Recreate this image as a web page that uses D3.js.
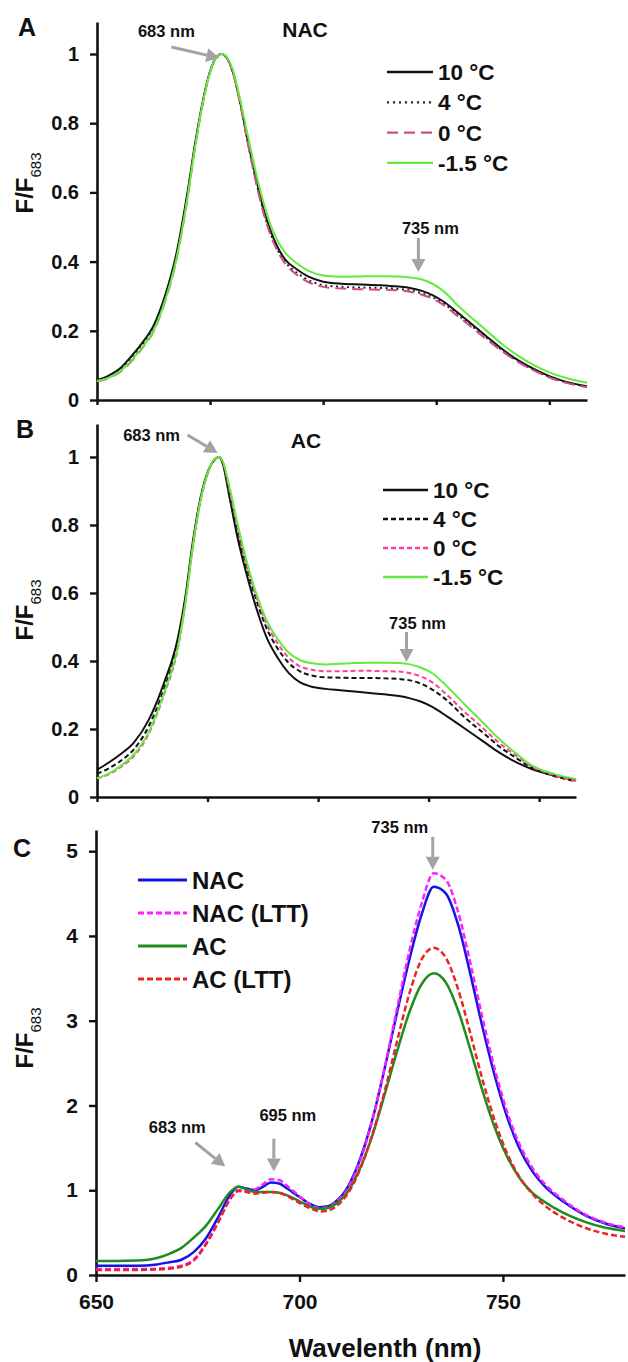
<!DOCTYPE html>
<html><head><meta charset="utf-8">
<script src="https://cdn.jsdelivr.net/npm/d3@7"></script>
<style>
body{margin:0;background:#fff;}
svg{display:block;font-family:"Liberation Sans",Arial,sans-serif;}
</style></head>
<body>
<script>
// ---------- DATA ----------
// Panel A (NAC)
const wlA = [650,653,656,659,662,665,668,671,674,676,678,680,682,683,684,686,688,690,692,694,696,698,700,703,706,710,715,720,725,730,733,736,739,742,746,750,754,758,762,766,770,775,780];
const nac10 = [0.058,0.07,0.09,0.125,0.165,0.215,0.3,0.42,0.6,0.74,0.86,0.95,0.995,1.0,0.995,0.95,0.86,0.75,0.65,0.56,0.49,0.44,0.405,0.378,0.357,0.342,0.336,0.334,0.332,0.328,0.324,0.316,0.303,0.284,0.25,0.214,0.178,0.143,0.113,0.089,0.069,0.051,0.04];
const nac4 = [0.056,0.066,0.085,0.118,0.158,0.207,0.292,0.41,0.59,0.735,0.858,0.949,0.995,1.0,0.995,0.95,0.858,0.745,0.642,0.552,0.482,0.432,0.398,0.368,0.347,0.332,0.327,0.325,0.324,0.321,0.317,0.309,0.297,0.278,0.244,0.209,0.174,0.14,0.11,0.087,0.067,0.05,0.039];
const nac0 = [0.054,0.063,0.08,0.11,0.15,0.198,0.283,0.402,0.582,0.728,0.853,0.947,0.995,1.0,0.995,0.948,0.855,0.742,0.638,0.548,0.478,0.428,0.393,0.362,0.341,0.327,0.322,0.32,0.319,0.317,0.313,0.305,0.293,0.274,0.24,0.205,0.17,0.137,0.108,0.085,0.065,0.048,0.037];
const nacM15 = [0.055,0.064,0.082,0.113,0.152,0.2,0.285,0.405,0.585,0.73,0.855,0.948,0.995,1.0,0.996,0.955,0.868,0.765,0.665,0.578,0.508,0.458,0.425,0.395,0.374,0.36,0.356,0.357,0.358,0.357,0.354,0.349,0.336,0.314,0.27,0.232,0.194,0.157,0.126,0.1,0.08,0.062,0.05];

// Panel B (AC)
const wlB = [650,653,656,660,664,668,672,674,676,678,680,682,683,684,686,688,690,692,694,696,699,702,705,708,712,716,720,724,728,732,735,738,741,745,750,755,759,764,768,774,780];
const ac10 = [0.08,0.1,0.123,0.16,0.226,0.33,0.47,0.59,0.75,0.875,0.955,0.993,1.0,0.985,0.88,0.77,0.68,0.6,0.53,0.47,0.41,0.365,0.338,0.325,0.318,0.314,0.31,0.306,0.302,0.297,0.29,0.28,0.265,0.237,0.2,0.162,0.132,0.101,0.082,0.063,0.05];
const ac4 = [0.068,0.083,0.103,0.14,0.207,0.312,0.455,0.58,0.74,0.87,0.952,0.993,1.0,0.988,0.895,0.79,0.7,0.622,0.555,0.497,0.437,0.395,0.37,0.358,0.352,0.351,0.35,0.35,0.349,0.347,0.343,0.333,0.316,0.284,0.232,0.187,0.15,0.113,0.086,0.062,0.046];
const ac0 = [0.055,0.066,0.085,0.12,0.185,0.295,0.44,0.57,0.735,0.866,0.95,0.995,1.0,0.99,0.9,0.8,0.71,0.632,0.566,0.51,0.452,0.41,0.385,0.375,0.37,0.37,0.371,0.371,0.37,0.369,0.364,0.354,0.337,0.3,0.248,0.2,0.16,0.12,0.09,0.064,0.047];
const acM15 = [0.055,0.068,0.088,0.125,0.19,0.3,0.445,0.572,0.737,0.868,0.952,0.995,1.0,0.99,0.91,0.81,0.72,0.64,0.575,0.52,0.465,0.425,0.403,0.394,0.39,0.392,0.394,0.395,0.395,0.394,0.39,0.38,0.364,0.325,0.27,0.216,0.172,0.126,0.093,0.068,0.053];

// Panel C
const wlC = [650,655,660,665,668,671,674,677,680,683,685,687,689,691,693,695,697,700,703,705,707,709,712,715,718,721,724,727,730,733,736,739,742,745,748,751,754,757,760,765,770,775,780];
const cNAC = [0.11,0.11,0.11,0.125,0.15,0.18,0.27,0.43,0.68,0.95,1.04,1.02,1.0,1.04,1.09,1.08,1.02,0.92,0.83,0.8,0.81,0.87,1.05,1.38,1.85,2.45,3.1,3.72,4.25,4.58,4.5,4.13,3.55,2.92,2.35,1.87,1.5,1.24,1.06,0.86,0.71,0.61,0.55];
const cNACLTT = [0.07,0.07,0.07,0.075,0.085,0.11,0.18,0.37,0.62,0.9,1.0,1.0,1.01,1.07,1.13,1.12,1.05,0.93,0.82,0.79,0.8,0.86,1.03,1.36,1.84,2.46,3.15,3.82,4.38,4.74,4.66,4.28,3.68,3.03,2.43,1.93,1.55,1.28,1.09,0.88,0.72,0.62,0.56];
const cAC = [0.165,0.165,0.17,0.2,0.25,0.32,0.44,0.58,0.78,0.98,1.04,1.01,0.98,0.98,0.98,0.97,0.94,0.87,0.8,0.78,0.79,0.84,0.99,1.27,1.66,2.14,2.64,3.1,3.43,3.56,3.45,3.12,2.66,2.17,1.74,1.4,1.15,0.98,0.87,0.73,0.63,0.56,0.52];
const cACLTT = [0.06,0.06,0.06,0.065,0.075,0.1,0.17,0.36,0.62,0.9,0.99,0.98,0.96,0.97,0.98,0.97,0.93,0.85,0.78,0.75,0.76,0.81,0.97,1.26,1.67,2.18,2.76,3.32,3.72,3.86,3.74,3.37,2.85,2.3,1.82,1.44,1.16,0.97,0.83,0.67,0.56,0.49,0.45];

const legendA = ["10 °C","4 °C","0 °C","-1.5 °C"];
const legendB = ["10 °C","4 °C","0 °C","-1.5 °C"];
const legendC = ["NAC","NAC (LTT)","AC","AC (LTT)"];
const yTicksAB = [0,0.2,0.4,0.6,0.8,1];
const yTicksC = [0,1,2,3,4,5];
const xTicksAB = [650,680,710,740,770];
const xTicksC = [650,700,750];

// ---------- DRAW ----------
const W = 628, H = 1362;
const svg = d3.select("body").append("svg").attr("width", W).attr("height", H);
const FONT = '"Liberation Sans", Arial, sans-serif';
const grey = "#a3a3a6";

function yFmt(d){ return d === 0 ? "0" : d === 1 ? "1" : String(d); }

function panel(o){
  const x = d3.scaleLinear().domain([650,780]).range(o.xr);
  const y = d3.scaleLinear().domain([0,o.ymax]).range(o.yr);
  const g = svg.append("g");
  // axes
  const ya = g.append("g").attr("transform",`translate(${o.xr[0]},0)`)
    .call(d3.axisLeft(y).tickValues(o.yTicks).tickFormat(yFmt).tickSize(7).tickPadding(11).tickSizeOuter(0));
  const xa = g.append("g").attr("transform",`translate(0,${o.yr[0]})`)
    .call(d3.axisBottom(x).tickValues(o.xTicks).tickFormat(o.xFmt).tickSize(o.xTickSize).tickPadding(12).tickSizeOuter(0));
  [ya,xa].forEach(a=>{
    a.select(".domain").attr("stroke","#111").attr("stroke-width",2.6);
    a.selectAll(".tick line").attr("stroke","#111").attr("stroke-width",2.4);
    a.selectAll(".tick text").attr("fill","#111").attr("font-family",FONT).attr("font-weight","bold").attr("font-size",o.tickFont);
  });
  // curves
  const line = d3.line().x(d=>x(d[0])).y(d=>y(d[1])).curve(d3.curveMonotoneX);
  o.series.forEach(s=>{
    g.append("path").datum(o.wl.map((w,i)=>[w,s.v[i]]))
      .attr("d",line).attr("fill","none").attr("stroke",s.c).attr("stroke-width",o.lw)
      .attr("stroke-dasharray",s.dash||null).attr("stroke-linecap",s.cap||"butt");
  });
  // legend
  o.series.forEach((s,i)=>{
    const ly = o.leg.y + i*o.leg.dy;
    g.append("line").attr("x1",o.leg.x).attr("x2",o.leg.x+o.leg.len).attr("y1",ly).attr("y2",ly)
      .attr("stroke",s.c).attr("stroke-width",o.lw+0.3).attr("stroke-dasharray",s.legDash||s.dash||null).attr("stroke-linecap",s.cap||"butt");
    g.append("text").attr("x",o.leg.x+o.leg.len+5).attr("y",ly).attr("dy","0.36em")
      .attr("font-family",FONT).attr("font-weight","bold").attr("font-size",o.leg.fs).attr("fill","#111")
      .text(o.leg.labels[i]);
  });
  // panel letter
  g.append("text").attr("x",o.letter.x).attr("y",o.letter.y).attr("font-family",FONT).attr("font-weight","bold")
    .attr("font-size",25).attr("fill","#111").text(o.letter.t);
  // title
  if(o.title){
    g.append("text").attr("x",o.title.x).attr("y",o.title.y).attr("text-anchor","middle").attr("font-family",FONT)
      .attr("font-weight","bold").attr("font-size",21).attr("fill","#111").text(o.title.t);
  }
  // y label
  const yl = g.append("text").attr("transform",`translate(${o.ylab.x},${o.ylab.y}) rotate(-90)`)
    .attr("text-anchor","middle").attr("font-family",FONT).attr("fill","#111");
  yl.append("tspan").attr("font-weight","bold").attr("font-size",24).text("F/F");
  yl.append("tspan").attr("font-size",15).attr("dy",8).text("683");
  // annotations
  o.ann.forEach(a=>{
    const tx = x(a.w)+a.dx, ty = y(a.v)+a.dy;
    const sx = tx + a.tail[0], sy = ty + a.tail[1];
    const ang = Math.atan2(ty-sy, tx-sx);
    const hl = 13, hw = 7;
    const bx = tx - hl*Math.cos(ang), by = ty - hl*Math.sin(ang);
    const px = -Math.sin(ang), py = Math.cos(ang);
    g.append("line").attr("x1",sx).attr("y1",sy).attr("x2",bx).attr("y2",by).attr("stroke",grey).attr("stroke-width",3);
    g.append("path").attr("d",`M${tx},${ty}L${bx+px*hw},${by+py*hw}L${bx-px*hw},${by-py*hw}Z`).attr("fill",grey);
    g.append("text").attr("x",sx+a.lab[0]).attr("y",sy+a.lab[1]).attr("text-anchor","middle")
      .attr("font-family",FONT).attr("font-weight","bold").attr("font-size",16.5).attr("fill","#111").text(a.t);
  });
  return {x,y};
}

// Panel A
panel({
  xr:[97,587], yr:[400,22], ymax:1.0925, yTicks:yTicksAB, xTicks:xTicksAB, xFmt:()=> "", xTickSize:5, tickFont:20, lw:2,
  wl:wlA,
  series:[
    {v:nac10,c:"#111"},
    {v:nac4,c:"#222",dash:"2,3.5",legDash:"2,4"},
    {v:nac0,c:"#cf4b8d",dash:"11,6"},
    {v:nacM15,c:"#62ec3c"}
  ],
  leg:{x:387,y:72,dy:30.3,len:46,fs:22.5,labels:legendA},
  letter:{x:18,y:36,t:"A"},
  title:{x:305,y:37,t:"NAC"},
  ylab:{x:33,y:183},
  ann:[
    {w:683,v:1,dx:-2,dy:4,tail:[-48,-11],lab:[-5,-10],t:"683 nm"},
    {w:735,v:0.37,dx:1,dy:0,tail:[0,-34],lab:[12,-4],t:"735 nm"}
  ]
});

// Panel B
panel({
  xr:[97,576], yr:[797,424], ymax:1.097, yTicks:yTicksAB, xTicks:xTicksAB, xFmt:()=> "", xTickSize:5, tickFont:20, lw:2,
  wl:wlB,
  series:[
    {v:ac10,c:"#111"},
    {v:ac4,c:"#111",dash:"5,3"},
    {v:ac0,c:"#ff3f9c",dash:"5,3"},
    {v:acM15,c:"#62ec3c"}
  ],
  leg:{x:383,y:490,dy:29,len:45,fs:22.5,labels:legendB},
  letter:{x:16,y:438,t:"B"},
  title:{x:306,y:448,t:"AC"},
  ylab:{x:33,y:610},
  ann:[
    {w:683,v:1,dx:-1,dy:-4,tail:[-30,-18],lab:[-36,6],t:"683 nm"},
    {w:734,v:0.4,dx:0,dy:1,tail:[0,-30],lab:[11,-3],t:"735 nm"}
  ]
});

// Panel C
const C = panel({
  xr:[96,625], yr:[1275,830], ymax:5.25, yTicks:yTicksC, xTicks:xTicksC, xFmt:d3.format("d"), xTickSize:7, tickFont:21, lw:2.5,
  wl:wlC,
  series:[
    {v:cNAC,c:"#1414e6"},
    {v:cNACLTT,c:"#ff1eff",dash:"6,3"},
    {v:cAC,c:"#1e8c1e"},
    {v:cACLTT,c:"#ec2424",dash:"6,3"}
  ],
  leg:{x:138,y:880,dy:33,len:49,fs:24,labels:legendC},
  letter:{x:13,y:857,t:"C"},
  title:null,
  ylab:{x:33,y:1038},
  ann:[
    {w:683,v:1.28,dx:-5,dy:0,tail:[-30,-24],lab:[-18,-10],t:"683 nm"},
    {w:693.7,v:1.22,dx:0,dy:0,tail:[0,-33],lab:[14,-18],t:"695 nm"},
    {w:733,v:4.78,dx:-1,dy:0,tail:[0,-33],lab:[-33,-4],t:"735 nm"}
  ]
});

// x axis title
svg.append("text").attr("x",385).attr("y",1357).attr("text-anchor","middle").attr("font-family",FONT)
  .attr("font-weight","bold").attr("font-size",26).attr("fill","#111").text("Wavelenth (nm)");
</script>
</body></html>
